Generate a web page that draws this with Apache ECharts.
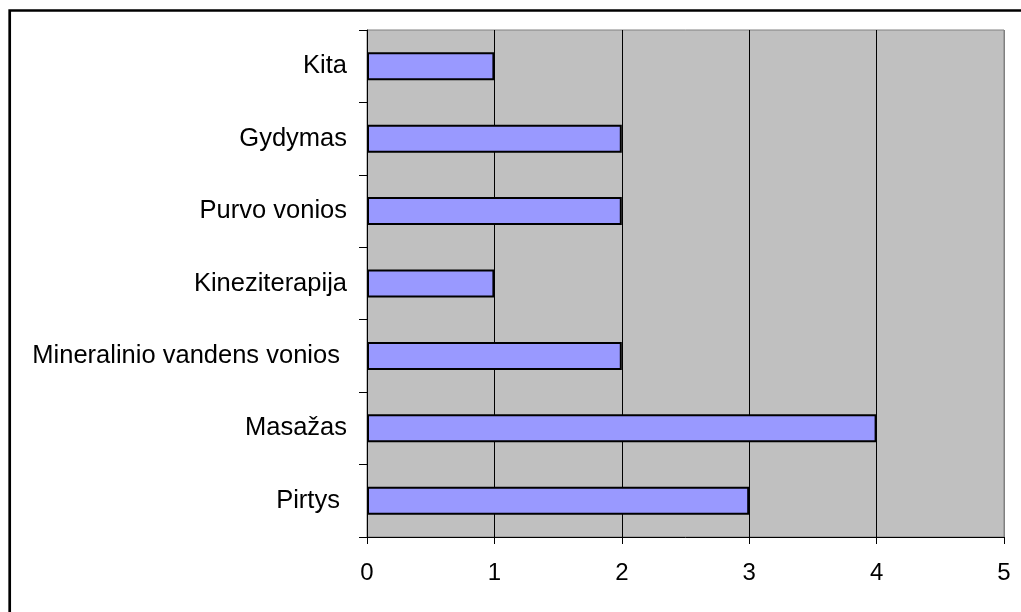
<!DOCTYPE html>
<html>
<head>
<meta charset="utf-8">
<script src="https://cdn.jsdelivr.net/npm/echarts@6/dist/echarts.min.js"></script>
<style>
  html, body { margin: 0; padding: 0; background: #ffffff; }
  #chart { width: 1021px; height: 612px; }
</style>
</head>
<body>
<div id="chart"></div>
<script>
// Procedures, listed bottom to top as they appear on the axis
var categories = ['Pirtys ', 'Masažas', 'Mineralinio vandens vonios ', 'Kineziterapija', 'Purvo vonios', 'Gydymas', 'Kita'];
var counts = [3, 4, 2, 1, 2, 2, 1];
var xTicks = [0, 1, 2, 3, 4, 5];

var FONT = '"Liberation Sans", Arial, sans-serif';

var chart = echarts.init(document.getElementById('chart'), null, { renderer: 'canvas' });

chart.setOption({
  animation: false,
  backgroundColor: '#ffffff',
  graphic: [{
    type: 'rect',
    shape: { x: 9.7, y: 10.5, width: 1100, height: 700 },
    style: { fill: 'none', stroke: '#000000', lineWidth: 2.7 },
    silent: true,
    z: 100
  }],
  grid: {
    left: 367,
    top: 30,
    right: 17,
    bottom: 75,
    show: true,
    backgroundColor: '#c0c0c0',
    borderColor: '#808080',
    borderWidth: 1
  },
  xAxis: {
    type: 'value',
    min: xTicks[0],
    max: xTicks[xTicks.length - 1],
    interval: 1,
    axisLine: { show: true, lineStyle: { color: '#000000', width: 1 } },
    axisTick: { show: true, inside: false, length: 7, lineStyle: { color: '#000000' } },
    axisLabel: { margin: 24, fontSize: 24, color: '#000000', fontFamily: FONT },
    splitLine: {
      show: true,
      lineStyle: { color: ['#000000', '#000000', '#000000', '#000000', '#000000', '#808080'], width: 1 }
    }
  },
  yAxis: {
    type: 'category',
    data: categories,
    boundaryGap: true,
    axisLine: { show: true, lineStyle: { color: '#000000', width: 1 } },
    axisTick: { show: true, inside: false, length: 8, alignWithLabel: false, lineStyle: { color: '#000000' } },
    axisLabel: { margin: 20, fontSize: 25.5, color: '#000000', fontFamily: FONT },
    splitLine: { show: false }
  },
  series: [{
    type: 'bar',
    data: counts,
    barWidth: 28,
    itemStyle: { color: '#9999ff', borderColor: '#000000', borderWidth: 2 },
    z: 2
  }]
});
</script>
</body>
</html>
